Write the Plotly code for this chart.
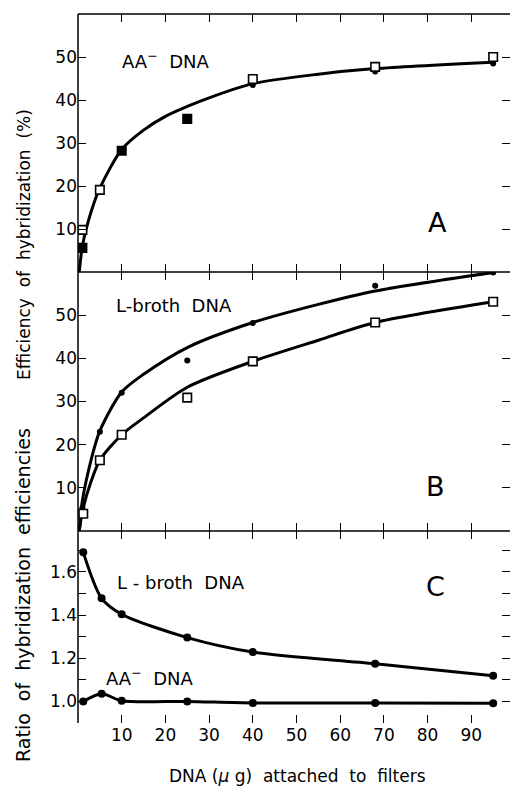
import plotly.graph_objects as go

# ---------------- data ----------------
# Panel A: AA- DNA
a_dot_x = [40, 68, 95]
a_dot_y = [43.5, 46.6, 48.5]
a_sq_x = [1, 5, 40, 68, 95]
a_sq_y = [9.8, 19.1, 44.9, 47.7, 50.0]
a_fsq_x = [1, 10, 25]
a_fsq_y = [5.6, 28.2, 35.6]
a_curve_x = [0.3, 1, 3, 5, 10, 15, 20, 25, 30, 40, 55, 68, 95]
a_curve_y = [0, 6, 14, 19.5, 28.5, 33, 36.2, 38.5, 40.5, 43.8, 46, 47.3, 48.8]

# Panel B: L-broth DNA
b_dot_x = [1, 5, 10, 25, 40, 68, 95]
b_dot_y = [5.3, 23.0, 32.0, 39.5, 48.2, 56.8, 59.9]
b_sq_x = [1.2, 5, 10, 25, 40, 68, 95]
b_sq_y = [4.0, 16.4, 22.3, 30.9, 39.3, 48.3, 53.1]
b_up_curve_x = [0.3, 1, 3, 5, 10, 15, 25, 40, 55, 68, 95]
b_up_curve_y = [0, 7, 16.5, 23.2, 32.2, 36.3, 42.5, 48.3, 52.5, 55.6, 59.9]
b_lo_curve_x = [0.3, 1, 3, 5, 10, 15, 25, 40, 55, 68, 95]
b_lo_curve_y = [0, 4.5, 11.5, 16.4, 22.3, 26.2, 33.3, 39.3, 44.2, 48.3, 53.1]

# Panel C: ratios
c_x = [1.2, 5.4, 10, 25, 40, 68, 95]
c_lbroth = [1.692, 1.478, 1.404, 1.296, 1.229, 1.175, 1.119]
c_aa = [1.0, 1.036, 1.003, 1.0, 0.993, 0.993, 0.991]

x_ticks = [10, 20, 30, 40, 50, 60, 70, 80, 90]
ab_ticks = [10, 20, 30, 40, 50]
c_ticks = [1.0, 1.2, 1.4, 1.6]
c_ticktext = ["1.0", "1.2", "1.4", "1.6"]

# ---------------- layout geometry ----------------
W, H = 510, 790
left_px = 78
yA = [(H - 272) / H, (H - 14) / H]
yB = [(H - 531) / H, (H - 272) / H]
yC = [(H - 723) / H, (H - 531) / H]
xd = [left_px / W, 1.0]

FONT = "DejaVu Sans"
BLK = "black"

fig = go.Figure()

def line(x, y, ax):
    fig.add_trace(go.Scatter(x=x, y=y, mode="lines", line=dict(color=BLK, width=3, shape="spline", smoothing=0.8),
                             xaxis=ax[0], yaxis=ax[1], hoverinfo="skip", showlegend=False))

def dots(x, y, ax, size=6):
    fig.add_trace(go.Scatter(x=x, y=y, mode="markers", marker=dict(symbol="circle", size=size, color=BLK),
                             xaxis=ax[0], yaxis=ax[1], showlegend=False))

def squares(x, y, ax, filled=False):
    fig.add_trace(go.Scatter(x=x, y=y, mode="markers",
                             marker=dict(symbol="square", size=8.5, color=BLK if filled else "white",
                                         line=dict(color=BLK, width=1.6)),
                             xaxis=ax[0], yaxis=ax[1], showlegend=False))

A = ("x", "y")
B = ("x2", "y2")
C = ("x3", "y3")

line(a_curve_x, a_curve_y, A)
dots(a_dot_x, a_dot_y, A)
squares(a_sq_x, a_sq_y, A)
squares(a_fsq_x, a_fsq_y, A, filled=True)

line(b_up_curve_x, b_up_curve_y, B)
line(b_lo_curve_x, b_lo_curve_y, B)
dots(b_dot_x, b_dot_y, B)
squares(b_sq_x, b_sq_y, B)

line(c_x, c_lbroth, C)
line(c_x, c_aa, C)
dots(c_x, c_lbroth, C, size=8)
dots(c_x, c_aa, C, size=8)

xr = [0, (W - 79) / 4.36]

def xaxis(domain_anchor, labels):
    return dict(domain=xd, range=xr, anchor=domain_anchor, showline=False, showgrid=False, zeroline=False,
                ticks="inside", ticklen=8, tickwidth=1.3, tickcolor=BLK, mirror="ticks",
                tickvals=x_ticks, showticklabels=labels,
                tickfont=dict(family=FONT, size=17, color=BLK))

def yaxis(dom, rng, vals, text=None):
    d = dict(domain=dom, range=rng, showline=False, showgrid=False, zeroline=False,
             ticks="inside", ticklen=8, tickwidth=1.3, tickcolor=BLK, mirror="ticks",
             tickvals=vals, tickfont=dict(family=FONT, size=17, color=BLK))
    if text is not None:
        d["ticktext"] = text
    return d

yax3 = yaxis(yC, [0.9, 1.79], c_ticks, c_ticktext) | dict(anchor="x3")
yax3["minor"] = dict(tick0=1.0, dtick=0.1, ticks="inside", ticklen=8, tickwidth=1.3, tickcolor=BLK)

fig.update_layout(
    width=W, height=H, margin=dict(l=0, r=0, t=0, b=0),
    paper_bgcolor="white", plot_bgcolor="white",
    xaxis=xaxis("y", False),
    xaxis2=xaxis("y2", False),
    xaxis3=xaxis("y3", True),
    yaxis=yaxis(yA, [0, 60], ab_ticks) | dict(anchor="x"),
    yaxis2=yaxis(yB, [0, 60], ab_ticks) | dict(anchor="x2"),
    yaxis3=yax3,
)

# axis lines
shapes = [dict(type="line", xref="paper", yref="paper", x0=xd[0], x1=xd[0], y0=yC[0], y1=yA[1],
               line=dict(color=BLK, width=1.5))]
for yy in (yA[1], yA[0], yB[0]):
    shapes.append(dict(type="line", xref="paper", yref="paper", x0=xd[0], x1=1, y0=yy, y1=yy,
                       line=dict(color=BLK, width=1.5)))
fig.update_layout(shapes=shapes)

def txt(x, y, s, ax, size=18):
    return dict(x=x, y=y, xref=ax[0], yref=ax[1], text=s, showarrow=False,
                xanchor="center", yanchor="middle",
                font=dict(family=FONT, size=size, color=BLK))

annos = [
    txt(20, 49.3, "AA<sup>−</sup>\u00a0 DNA", A),
    txt(22, 52.2, "L-broth\u00a0 DNA", B),
    txt(23.6, 1.55, "L - broth\u00a0 DNA", C),
    txt(16.3, 1.114, "AA<sup>−</sup>\u00a0 DNA", C),
    txt(82.3, 11.6, "A", A, size=27),
    txt(81.7, 10.2, "B", B, size=27),
    txt(81.7, 1.531, "C", C, size=27),
    dict(x=24 / W, y=(H - 245) / H, xref="paper", yref="paper", textangle=-90, showarrow=False,
         xanchor="center", yanchor="middle",
         text="Efficiency\u00a0 of\u00a0 hybridization\u00a0 (%)", font=dict(family=FONT, size=17, color=BLK)),
    dict(x=23 / W, y=(H - 595) / H, xref="paper", yref="paper", textangle=-90, showarrow=False,
         xanchor="center", yanchor="middle",
         text="Ratio\u00a0 of\u00a0 hybridization\u00a0 efficiencies", font=dict(family=FONT, size=19, color=BLK)),
    dict(x=297 / W, y=(H - 776) / H, xref="paper", yref="paper", showarrow=False,
         xanchor="center", yanchor="middle",
         text="DNA (<i>\u03bc</i> g)\u00a0 attached\u00a0 to\u00a0 filters", font=dict(family=FONT, size=17, color=BLK)),
]
fig.update_layout(annotations=annos)

fig.write_html("out.html")
